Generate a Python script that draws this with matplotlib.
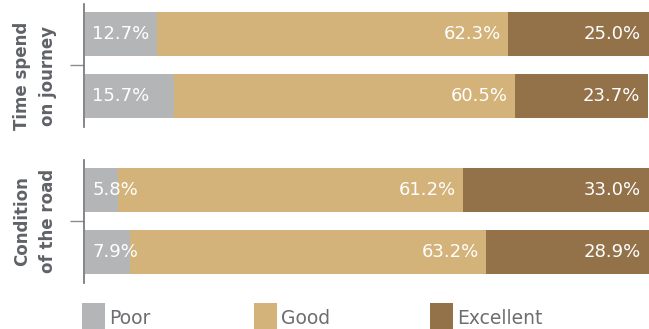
import matplotlib
matplotlib.use("Agg")
import matplotlib.pyplot as plt
from matplotlib.patches import Rectangle

# Survey ratings (percent) per question, two respondent rows each
groups = ["Time spend\non journey", "Condition\nof the road"]
poor = [[12.7, 15.7], [5.8, 7.9]]
good = [[62.3, 60.5], [61.2, 63.2]]
excellent = [[25.0, 23.7], [33.0, 28.9]]
ratings = ["Poor", "Good", "Excellent"]

colors = {"Poor": "#b4b5b6", "Good": "#d3b37a", "Excellent": "#93724a"}
label_grey = "#5f6266"
legend_grey = "#6d6e71"

plt.rcParams["font.family"] = ["DejaVu Sans"]

W, H = 649, 329
fig = plt.figure(figsize=(W / 100, H / 100), dpi=100)

# axes boxes in pixel coordinates: (left, top, width, height), plus a
# vertical nudge (px, downward) for the group label
boxes = [(84, 4, 565, 123, 11), (84, 160, 565, 123, 0)]

pt = 72 / 100  # points per pixel

for gi, (l, t, w, h, nudge) in enumerate(boxes):
    ax = fig.add_axes([l / W, 1 - (t + h) / H, w / W, h / H])
    rows = list(range(len(poor[gi])))
    p = poor[gi]
    g = good[gi]
    e = excellent[gi]
    height = 0.715
    ax.barh(rows, p, height=height, color=colors["Poor"], linewidth=0)
    ax.barh(rows, g, left=p, height=height, color=colors["Good"], linewidth=0)
    lefts = [a + b for a, b in zip(p, g)]
    ax.barh(rows, e, left=lefts, height=height, color=colors["Excellent"], linewidth=0)

    for r in rows:
        ax.annotate(f"{p[r]:.1f}%", (0, r), xytext=(7 * pt, 0), textcoords="offset points",
                    ha="left", va="center", color="white", fontsize=13)
        ax.annotate(f"{g[r]:.1f}%", (p[r] + g[r], r), xytext=(-7 * pt, 0), textcoords="offset points",
                    ha="right", va="center", color="white", fontsize=13)
        ax.annotate(f"{e[r]:.1f}%", (p[r] + g[r] + e[r], r), xytext=(-8 * pt, 0), textcoords="offset points",
                    ha="right", va="center", color="white", fontsize=13)

    ax.set_xlim(-0.2, 100)
    ax.set_ylim(1.5, -0.49)
    ax.set_xticks([])
    ax.set_yticks([0.5])
    ax.set_yticklabels([])
    ax.tick_params(axis="y", length=14 * pt, width=1, color="#8a8c8f")

    # group label to the left of the tick
    ax.annotate(groups[gi], (0, 0.5), xycoords=("axes fraction", "data"),
                xytext=(-27 * pt, -nudge * pt), textcoords="offset points",
                rotation=90, ha="right", va="center", fontsize=12, fontweight="bold",
                color=label_grey, linespacing=1.55, multialignment="center")

    for s in ["top", "right", "bottom"]:
        ax.spines[s].set_visible(False)
    ax.spines["left"].set_color("#6f7174")
    ax.spines["left"].set_linewidth(1.2)

# legend row
legend_x = [82, 254, 430]
for name, x in zip(ratings, legend_x):
    fig.patches.append(Rectangle((x / W, 1 - 329 / H), 23 / W, 26 / H,
                                 transform=fig.transFigure, color=colors[name], linewidth=0))
    fig.text((x + 27) / W, 1 - 318 / H, name, ha="left", va="center",
             fontsize=13.5, color=legend_grey)

fig.savefig("out.png", dpi=100)
